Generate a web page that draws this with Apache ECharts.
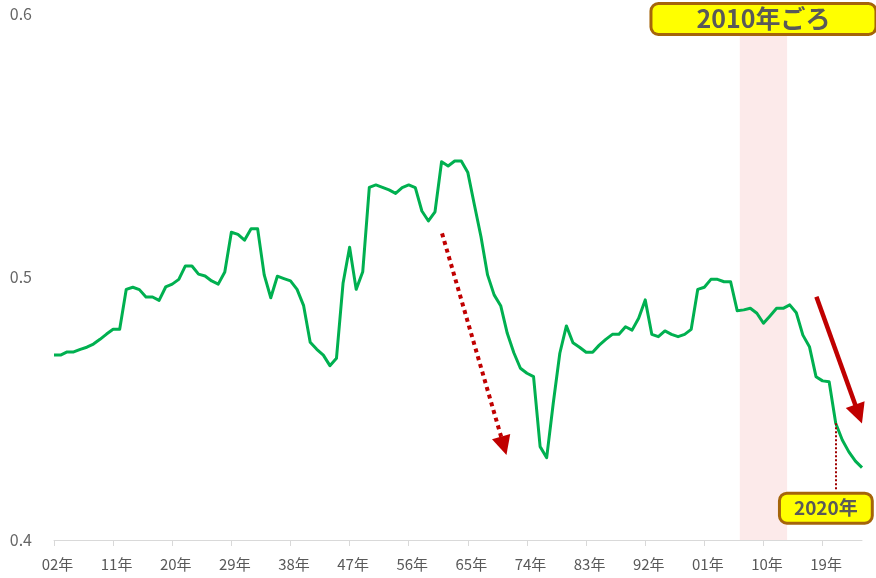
<!DOCTYPE html>
<html>
<head>
<meta charset="utf-8">
<script src="https://cdn.jsdelivr.net/npm/echarts@6/dist/echarts.min.js"></script>
<style>
html,body{margin:0;padding:0;background:#fff;}
#chart{width:876px;height:578px;}
</style>
</head>
<body>
<div id="chart"></div>
<script>
// Categories: years 1902 - 2025
const firstYear = 1902;
const lastYear = 2025;
const years = [];
for (let y = firstYear; y <= lastYear; y++) years.push(String(y));

// Series values, one per year 1902..2025
const ratio = [
  0.4703,0.4703,0.4715,0.4715,0.4725,0.4733,0.4745,0.4763,0.4783,0.4801,
  0.4801,0.4953,0.4961,0.4952,0.4924,0.4924,0.4911,0.4962,0.4973,0.4991,
  0.5042,0.5042,0.5011,0.5004,0.4985,0.4973,0.5019,0.5170,0.5162,0.5140,
  0.5183,0.5183,0.5008,0.4921,0.5003,0.4994,0.4985,0.4953,0.4891,0.4752,
  0.4725,0.4703,0.4663,0.4691,0.4976,0.5113,0.4953,0.5020,0.5341,0.5350,
  0.5341,0.5331,0.5318,0.5340,0.5350,0.5340,0.5251,0.5213,0.5248,0.5438,
  0.5422,0.5441,0.5441,0.5397,0.5274,0.5153,0.5008,0.4932,0.4891,0.4786,
  0.4712,0.4653,0.4634,0.4621,0.4355,0.4313,0.4520,0.4710,0.4814,0.4750,
  0.4733,0.4714,0.4714,0.4741,0.4763,0.4782,0.4782,0.4811,0.4798,0.4843,
  0.4913,0.4782,0.4773,0.4795,0.4782,0.4773,0.4782,0.4801,0.4953,0.4961,
  0.4991,0.4991,0.4982,0.4982,0.4872,0.4875,0.4881,0.4862,0.4824,0.4852,
  0.4881,0.4881,0.4894,0.4864,0.4779,0.4735,0.4621,0.4605,0.4602,0.4444,
  0.4380,0.4335,0.4300,0.4275
];

// Y axis ticks
const yMin = 0.4, yMax = 0.6, yStep = 0.1;
const xLabelEvery = 9;

// Annotations (data coordinates)
const shadeRange = [2006.4, 2013.6];
const boxLabel2010 = { text: '2010年ごろ', at: [2010, 0.5981] };
const boxLabel2020 = { text: '2020年', at: [2019.5, 0.4121] };
const dropLine2020 = [[2021, 0.4444], [2021, 0.4187]];
const dottedArrow = [[1961.07, 0.5166], [1970.47, 0.4358]];
const solidArrow = [[2018.06, 0.4925], [2024.48, 0.4479]];

const FONT = '"Noto Sans CJK JP", "Noto Sans", sans-serif';
const RED = '#C00000';

const chart = echarts.init(document.getElementById('chart'), null, {renderer: 'canvas'});
chart.setOption({
  animation: false,
  backgroundColor: '#ffffff',
  textStyle: { fontFamily: FONT },
  grid: { left: 54, right: 14, top: 14, bottom: 38, containLabel: false },
  xAxis: [{
    type: 'category',
    data: years,
    boundaryGap: false,
    axisLine: { show: true, lineStyle: { color: '#D9D9D9', width: 1 } },
    axisTick: { show: true, interval: xLabelEvery - 1, length: 6, lineStyle: { color: '#D9D9D9' } },
    axisLabel: {
      interval: xLabelEvery - 1,
      margin: 17,
      fontSize: 15,
      color: '#595959',
      fontFamily: FONT,
      padding: [0, 0, 0, 7],
      formatter: v => v.slice(2) + '年'
    },
    splitLine: { show: false }
  }, {
    type: 'value',
    min: firstYear,
    max: lastYear,
    show: false
  }],
  yAxis: {
    type: 'value',
    min: yMin, max: yMax, interval: yStep,
    axisLine: { show: false },
    axisTick: { show: false },
    splitLine: { show: false },
    axisLabel: { margin: 22, fontSize: 16, color: '#666666', fontFamily: FONT,
      formatter: v => v.toFixed(1) }
  },
  series: [{
    name: 'annotations',
    type: 'line',
    xAxisIndex: 1,
    data: [],
    silent: true,
    z: 1,
    markArea: {
      silent: true,
      itemStyle: { color: '#FCEAEA' },
      data: [[{ xAxis: shadeRange[0] }, { xAxis: shadeRange[1] }]]
    }
  }, {
    name: 'ratio',
    type: 'line',
    data: ratio,
    showSymbol: false,
    symbol: 'none',
    z: 3,
    lineStyle: { color: '#00B050', width: 3, join: 'round' },
    itemStyle: { color: '#00B050' }
  }, {
    name: 'arrows',
    type: 'line',
    xAxisIndex: 1,
    data: [],
    silent: true,
    z: 5,
    markLine: {
      silent: true,
      animation: false,
      label: { show: false },
      symbol: ['none', 'triangle'],
      data: [
        [{ coord: dottedArrow[0], symbol: 'none',
           lineStyle: { color: RED, width: 4, type: [4, 4], cap: 'butt' } },
         { coord: dottedArrow[1], symbol: 'triangle', symbolSize: 19, itemStyle: { color: RED } }],
        [{ coord: solidArrow[0], symbol: 'none',
           lineStyle: { color: RED, width: 4.5, type: 'solid' } },
         { coord: solidArrow[1], symbol: 'triangle', symbolSize: 20, itemStyle: { color: RED } }],
        [{ coord: dropLine2020[0], symbol: 'none',
           lineStyle: { color: '#A00000', width: 2, type: [2, 2] } },
         { coord: dropLine2020[1], symbol: 'none' }]
      ]
    },
    markPoint: {
      silent: true,
      symbol: 'rect',
      symbolSize: 0,
      data: [{
        coord: boxLabel2010.at,
        label: {
          show: true, position: 'inside', formatter: boxLabel2010.text,
          fontSize: 25, lineHeight: 26, fontWeight: 'bold', color: '#595959', fontFamily: FONT,
          backgroundColor: '#FFFF00', borderColor: '#A5650A', borderWidth: 3, borderRadius: 6,
          padding: [1, 44, 1, 44]
        }
      }, {
        coord: boxLabel2020.at,
        label: {
          show: true, position: 'inside', formatter: boxLabel2020.text,
          fontSize: 19, lineHeight: 22, fontWeight: 'bold', color: '#595959', fontFamily: FONT,
          backgroundColor: '#FFFF00', borderColor: '#A5650A', borderWidth: 3, borderRadius: 6,
          padding: [3, 13, 2, 13]
        }
      }]
    }
  }]
});
</script>
</body>
</html>
